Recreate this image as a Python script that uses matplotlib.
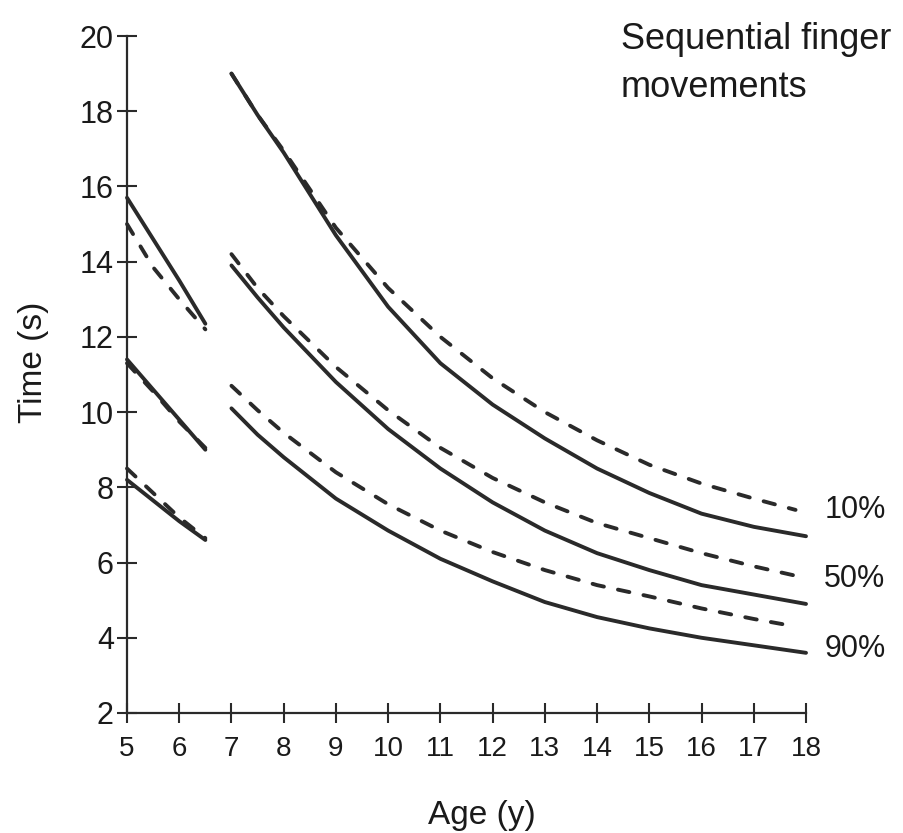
import numpy as np
import matplotlib
matplotlib.use("Agg")
import matplotlib.pyplot as plt

plt.rcParams['font.family'] = ['Liberation Sans', 'DejaVu Sans']

# ages 5 - 6.5
age_young = [5, 5.5, 6, 6.5]
p10_solid_young = [15.7, 14.6, 13.5, 12.35]
p10_dash_young = [15.0, 13.85, 13.0, 12.2]
p50_solid_young = [11.4, 10.6, 9.8, 9.0]
p50_dash_young = [11.3, 10.55, 9.75, 9.05]
p90_solid_young = [8.2, 7.65, 7.1, 6.6]
p90_dash_young = [8.5, 7.85, 7.2, 6.65]

# ages 7 - 18
age_old = [7, 7.5, 8, 9, 10, 11, 12, 13, 14, 15, 16, 17, 18]
age_old_dash = [7, 7.5, 8, 9, 10, 11, 12, 13, 14, 15, 16, 17, 17.8]
p10_solid_old = [19.0, 17.9, 16.9, 14.7, 12.8, 11.3, 10.2, 9.3, 8.5, 7.85, 7.3, 6.95, 6.7]
p10_dash_old = [19.0, 17.9, 16.95, 14.9, 13.3, 12.0, 10.9, 10.0, 9.25, 8.6, 8.1, 7.7, 7.4]
p50_solid_old = [13.9, 13.05, 12.25, 10.8, 9.55, 8.5, 7.6, 6.85, 6.25, 5.8, 5.4, 5.15, 4.9]
p50_dash_old = [14.2, 13.3, 12.55, 11.2, 10.05, 9.05, 8.25, 7.6, 7.05, 6.65, 6.25, 5.9, 5.65]
p90_solid_old = [10.1, 9.4, 8.8, 7.7, 6.85, 6.1, 5.5, 4.95, 4.55, 4.25, 4.0, 3.8, 3.6]
p90_dash_old = [10.7, 10.05, 9.45, 8.4, 7.55, 6.85, 6.28, 5.8, 5.4, 5.1, 4.78, 4.5, 4.3]

pct_labels = ["10%", "50%", "90%"]
pct_label_y = [7.4, 5.55, 3.7]
x_ticks = list(range(5, 19))
y_ticks = list(range(2, 21, 2))

ink = "#2a2a2a"
fig = plt.figure(figsize=(9.04, 8.33), dpi=100)
ax = fig.add_axes([127/904, 1 - 713/833, 679/904, 677/833])

solid_kw = dict(color=ink, lw=2.8, solid_capstyle='round', solid_joinstyle='round', clip_on=False)
dash_kw = dict(color=ink, lw=2.8, linestyle=(0, (3.0, 3.7)), dash_capstyle='round', clip_on=False)

for ys in [p10_solid_young, p50_solid_young, p90_solid_young]:
    ax.plot(age_young, ys, **solid_kw)
for ys in [p10_dash_young, p50_dash_young, p90_dash_young]:
    ax.plot(age_young, ys, **dash_kw)
for ys in [p10_solid_old, p50_solid_old, p90_solid_old]:
    ax.plot(age_old, ys, **solid_kw)
for ys in [p10_dash_old, p50_dash_old, p90_dash_old]:
    ax.plot(age_old_dash, ys, **dash_kw)

for lab, yy in zip(pct_labels, pct_label_y):
    ax.text(18.35, yy, lab, fontsize=22, color="#1a1a1a", ha='left', va='center')

ax.text(0.727, 1.02, "Sequential finger\nmovements", transform=ax.transAxes,
        fontsize=26, color="#1a1a1a", ha='left', va='top', linespacing=1.45)

ax.set_xlim(5, 18)
ax.set_ylim(2, 20)
ax.set_xticks(x_ticks)
ax.set_yticks(y_ticks)
for s in ['top', 'right']:
    ax.spines[s].set_visible(False)
for s in ['left', 'bottom']:
    ax.spines[s].set_linewidth(1.6)
    ax.spines[s].set_color(ink)
ax.tick_params(axis='both', direction='inout', length=15, width=1.5, color=ink)
ax.tick_params(axis='x', labelsize=20, pad=9, labelcolor="#1a1a1a")
ax.tick_params(axis='y', labelsize=22, pad=2, labelcolor="#1a1a1a")

ax.set_xlabel("Age (y)", fontsize=24, color="#1a1a1a")
ax.xaxis.set_label_coords(0.523, -0.128)
ax.set_ylabel("Time (s)", fontsize=24, color="#1a1a1a")
ax.yaxis.set_label_coords(-0.115, 0.518)

fig.savefig("out.png", dpi=100, facecolor="white")
